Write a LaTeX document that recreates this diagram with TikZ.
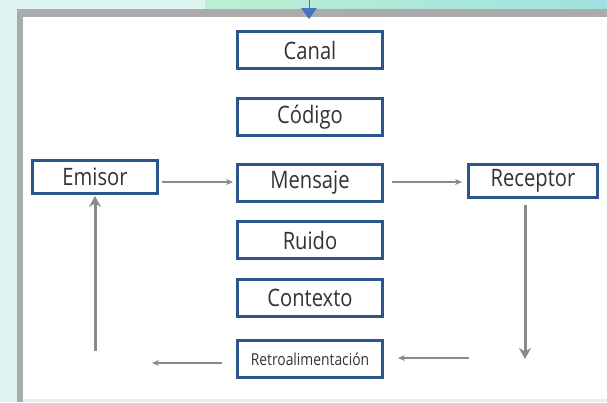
\documentclass[tikz,border=0pt]{standalone}
\usepackage{fontspec}
\newfontfamily\lbl[FakeStretch=0.84]{Open Sans}
\usetikzlibrary{arrows.meta}
\definecolor{bgcyan}{HTML}{E0F3F3}
\definecolor{gradL}{HTML}{BDEFD2}
\definecolor{gradR}{HTML}{9EE2E0}
\definecolor{frame}{HTML}{ABABAB}
\definecolor{boxblue}{HTML}{2A5689}
\definecolor{txt}{HTML}{333333}
\definecolor{arr}{HTML}{8A8A8A}
\definecolor{tri}{HTML}{4472C4}
\tikzset{
  box/.style={draw=boxblue, line width=2.3pt, fill=white, minimum width=145pt, minimum height=37pt, inner sep=0pt, text=txt, font=\lbl\fontsize{24}{24}\selectfont},
  sidebox/.style={box, minimum width=125pt, minimum height=33pt},
  thin/.style={draw=arr, line width=1.2pt, -{Stealth[length=7pt,width=6pt]}},
  thick/.style={draw=arr, line width=3pt, -{Stealth[length=11pt,width=12pt]}}
}
\begin{document}
\begin{tikzpicture}[x=1pt,y=-1pt]
\useasboundingbox (0,0) rectangle (607,402);
\fill[bgcyan] (0,0) rectangle (607,402);
\shade[left color=gradL, right color=gradR] (205,0) rectangle (607,10);
\fill[frame] (17,9) rectangle (607,17);
\fill[frame] (17,9) rectangle (23,402);
\fill[white] (23,17) rectangle (607,399);
\fill[black!8] (23,399) rectangle (607,402);
\fill[tri] (301,8) -- (317,8) -- (309,19) -- cycle;
\draw[tri, line width=1pt] (309,0) -- (309,8);

\node[box] (canal) at (310,50) {Canal};
\node[box] (codigo) at (310,117) {Código};
\node[box] (mensaje) at (310,183) {Mensaje};
\node[box] (ruido) at (310,240) {Ruido};
\node[box] (contexto) at (310,298) {Contexto};
\node[box, font=\lbl\fontsize{16.5}{16.5}\selectfont] (retro) at (310,359) {Retroalimentación};
\node[sidebox] (emisor) at (95,177) {Emisor};
\node[sidebox, minimum width=129pt] (receptor) at (533,181) {Receptor};

\coordinate (e1) at (162,182);
\coordinate (e2) at (233,182);
\coordinate (m1) at (392,182);
\coordinate (m2) at (462,182);
\coordinate (r1) at (525,205);
\coordinate (r2) at (525,359);
\coordinate (f1) at (469,358);
\coordinate (f2) at (398,358);
\coordinate (g1) at (222,363);
\coordinate (g2) at (152,363);
\coordinate (u1) at (95,351);
\coordinate (u2) at (95,196);

\draw[thin] (e1) -- (e2);
\draw[thin] (m1) -- (m2);
\draw[thick] (r1) -- (r2);
\draw[thin] (f1) -- (f2);
\draw[thin] (g1) -- (g2);
\draw[thick] (u1) -- (u2);
\end{tikzpicture}
\end{document}
